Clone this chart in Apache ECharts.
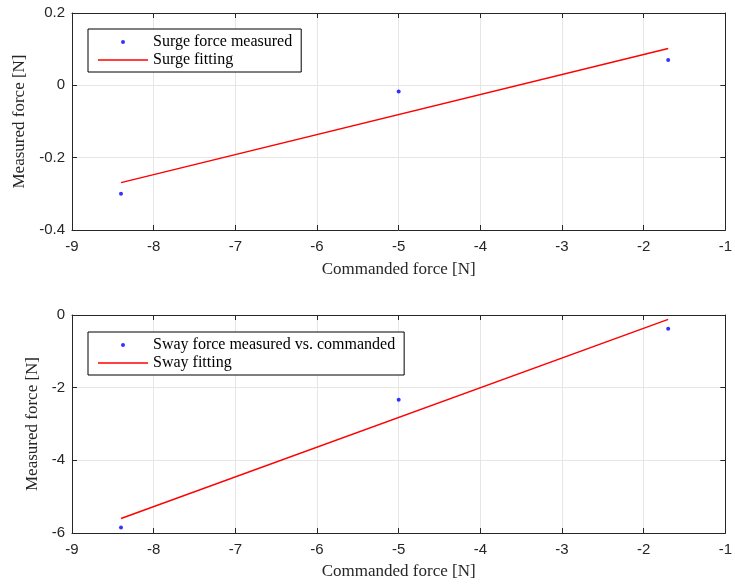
<!DOCTYPE html>
<html>
<head>
<meta charset="utf-8">
<script src="https://cdn.jsdelivr.net/npm/echarts@6/dist/echarts.min.js"></script>
<style>
html,body{margin:0;padding:0;background:#fff;}
#chart{width:735px;height:585px;}
</style>
</head>
<body>
<div id="chart"></div>
<script>
// ---- data ----
const commanded = [-8.4, -5, -1.7];
const surgeMeasured = [-0.300, -0.017, 0.070];
const swayMeasured = [-5.85, -2.33, -0.377];
const fitX = [-8.4, -1.7];
const surgeFit = [-0.269, 0.102];
const swayFit = [-5.60, -0.12];
const xTicks = [-9, -8, -7, -6, -5, -4, -3, -2, -1];
const surgeYTicks = [-0.4, -0.2, 0, 0.2];
const swayYTicks = [-6, -4, -2, 0];

const serif = '"Liberation Serif", "Times New Roman", serif';
const sans = '"Liberation Sans", Arial, sans-serif';
const axisCol = '#262626';
const lineIcon = 'path://M0,0H50V1.5H0Z';

function pairs(xs, ys) { return xs.map((x, i) => [x, ys[i]]); }

const grids = [
  {left: 72, right: 5, top: 13, height: 217},
  {left: 72, right: 5, top: 315, height: 218}
];

function xAxes(gi, gap) {
  const base = {
    gridIndex: gi, type: 'value',
    min: xTicks[0], max: xTicks[xTicks.length - 1], interval: 1,
    axisLine: {show: true, onZero: false, lineStyle: {color: axisCol, width: 1}},
    axisTick: {show: true, inside: true, length: 5, lineStyle: {color: axisCol}},
  };
  return [
    Object.assign({}, base, {
      position: 'bottom',
      axisLabel: {color: axisCol, fontFamily: sans, fontSize: 15, margin: 9},
      splitLine: {show: true, lineStyle: {color: '#e6e6e6', width: 1}},
      name: 'Commanded force [N]', nameLocation: 'middle', nameGap: gap,
      nameTextStyle: {color: axisCol, fontFamily: serif, fontSize: 17}
    }),
    Object.assign({}, base, {
      position: 'top',
      axisLabel: {show: false},
      splitLine: {show: false}
    })
  ];
}

function yAxes(gi, ticks, interval, gap) {
  const base = {
    gridIndex: gi, type: 'value',
    min: ticks[0], max: ticks[ticks.length - 1], interval: interval,
    axisLine: {show: true, onZero: false, lineStyle: {color: axisCol, width: 1}},
    axisTick: {show: true, inside: true, length: 5, lineStyle: {color: axisCol}},
  };
  return [
    Object.assign({}, base, {
      position: 'left',
      axisLabel: {color: axisCol, fontFamily: sans, fontSize: 15, margin: 7,
        formatter: v => String(Math.round(v * 10) / 10)},
      splitLine: {show: true, lineStyle: {color: '#e6e6e6', width: 1}},
      name: 'Measured force [N]', nameLocation: 'middle', nameGap: gap,
      nameTextStyle: {color: axisCol, fontFamily: serif, fontSize: 17}
    }),
    Object.assign({}, base, {
      position: 'right',
      axisLabel: {show: false},
      splitLine: {show: false}
    })
  ];
}

function legend(names, top) {
  return {
    data: [
      {name: names[0], icon: 'circle'},
      {name: names[1], icon: lineIcon, itemStyle: {color: '#ff0000'}}
    ],
    orient: 'vertical', left: 88, top: top,
    itemWidth: 50, itemHeight: 4, itemGap: 2,
    padding: [5, 9, 4, 10],
    borderColor: '#000', borderWidth: 1, backgroundColor: '#fff',
    textStyle: {color: '#000', fontFamily: serif, fontSize: 16, lineHeight: 16},
    selectedMode: false
  };
}

const option = {
  animation: false,
  backgroundColor: '#fff',
  grid: grids,
  xAxis: [...xAxes(0, 31), ...xAxes(1, 30)],
  yAxis: [...yAxes(0, surgeYTicks, 0.2, 41), ...yAxes(1, swayYTicks, 2, 21)],
  legend: [
    legend(['Surge force measured', 'Surge fitting'], 29),
    legend(['Sway force measured vs. commanded', 'Sway fitting'], 332)
  ],
  series: [
    {name: 'Surge force measured', type: 'scatter', xAxisIndex: 0, yAxisIndex: 0,
      data: pairs(commanded, surgeMeasured), symbol: 'circle', symbolSize: 4,
      itemStyle: {color: '#0000ff'}},
    {name: 'Surge fitting', type: 'line', xAxisIndex: 0, yAxisIndex: 0,
      data: pairs(fitX, surgeFit), symbol: 'none', showSymbol: false,
      lineStyle: {color: '#ff0000', width: 1.5}, itemStyle: {color: '#ff0000'}},
    {name: 'Sway force measured vs. commanded', type: 'scatter', xAxisIndex: 2, yAxisIndex: 2,
      data: pairs(commanded, swayMeasured), symbol: 'circle', symbolSize: 4,
      itemStyle: {color: '#0000ff'}},
    {name: 'Sway fitting', type: 'line', xAxisIndex: 2, yAxisIndex: 2,
      data: pairs(fitX, swayFit), symbol: 'none', showSymbol: false,
      lineStyle: {color: '#ff0000', width: 1.5}, itemStyle: {color: '#ff0000'}}
  ]
};

const chart = echarts.init(document.getElementById('chart'), null, {renderer: 'canvas'});
chart.setOption(option);
</script>
</body>
</html>
